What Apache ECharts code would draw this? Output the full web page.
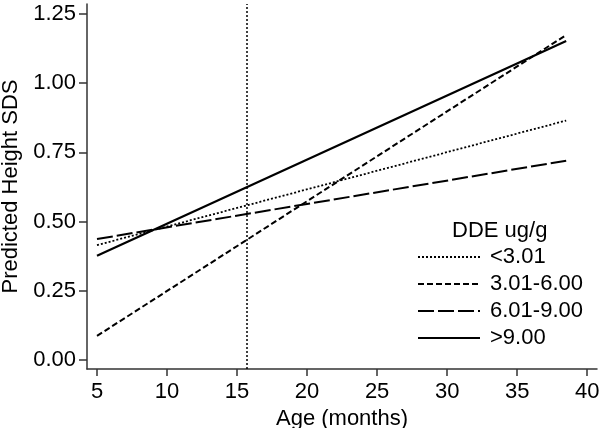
<!DOCTYPE html>
<html>
<head>
<meta charset="utf-8">
<script src="https://cdn.jsdelivr.net/npm/echarts@6/dist/echarts.min.js"></script>
<style>
html,body{margin:0;padding:0;background:#fff;}
#chart{width:601px;height:428px;}
</style>
</head>
<body>
<div id="chart"></div>
<script>
// Data
const ages = [5, 38.5];
const seriesNames = ['<3.01', '3.01-6.00', '6.01-9.00', '>9.00'];
const lt301 = [0.415, 0.865];
const dde301to600 = [0.087, 1.174];
const dde601to900 = [0.437, 0.720];
const gt900 = [0.377, 1.152];
const xTicks = [5, 10, 15, 20, 25, 30, 35, 40];
const yTicks = [0, 0.25, 0.5, 0.75, 1.0, 1.25];
const refAge = 15.7;

const pairs = (ys) => ages.map((x, i) => [x, ys[i]]);
const axisColor = '#333';
const font = 'Liberation Sans, Arial, sans-serif';
const fs = 22;

const chart = echarts.init(document.getElementById('chart'), null, {renderer: 'canvas'});
chart.setOption({
  backgroundColor: '#fff',
  animation: false,
  textStyle: {fontFamily: font},
  grid: {left: 87, right: 4, top: 4, bottom: 59, outerBoundsMode: 'none', containLabel: false},
  title: {
    text: 'DDE ug/g', left: 452, top: 220, padding: 0,
    textStyle: {fontFamily: font, fontSize: fs, fontWeight: 'normal', color: '#000'}
  },
  legend: {
    orient: 'vertical', left: 417, top: 246, padding: 0,
    itemWidth: 62, itemHeight: 20, itemGap: 5,
    itemStyle: {opacity: 0},
    textStyle: {fontFamily: font, fontSize: fs, color: '#000', padding: [0, 0, 0, 5]},
    data: seriesNames
  },
  xAxis: {
    type: 'value', min: 4.286, max: 40.7,
    name: 'Age (months)', nameLocation: 'middle', nameGap: 30,
    nameTextStyle: {fontFamily: font, fontSize: fs, color: '#000'},
    axisLine: {show: true, onZero: false, lineStyle: {color: axisColor, width: 1.5}},
    axisTick: {show: true, length: 7, lineStyle: {color: axisColor, width: 1.5}, customValues: xTicks},
    axisLabel: {fontFamily: font, fontSize: fs, color: '#000', margin: 12, customValues: xTicks},
    splitLine: {show: false}
  },
  yAxis: {
    type: 'value', min: -0.0325, max: 1.286,
    name: 'Predicted Height SDS', nameLocation: 'middle', nameGap: 63, nameRotate: 90,
    nameTextStyle: {fontFamily: font, fontSize: fs, color: '#000'},
    axisLine: {show: true, onZero: false, lineStyle: {color: axisColor, width: 1.5}},
    axisTick: {show: true, length: 8, lineStyle: {color: axisColor, width: 1.5}, customValues: yTicks},
    axisLabel: {fontFamily: font, fontSize: fs, color: '#000', margin: 11, customValues: yTicks,
      formatter: (v) => v.toFixed(2)},
    splitLine: {show: false}
  },
  series: [
    {
      name: seriesNames[0], type: 'line', data: pairs(lt301), symbol: 'none',
      lineStyle: {color: '#000', width: 1.8, type: [2, 2]}, itemStyle: {color: '#000'},
      markLine: {
        silent: true, symbol: 'none', label: {show: false},
        lineStyle: {color: '#000', width: 1.5, type: [2, 2]},
        data: [{xAxis: refAge}]
      }
    },
    {
      name: seriesNames[1], type: 'line', data: pairs(dde301to600), symbol: 'none',
      lineStyle: {color: '#000', width: 2, type: [6, 3]}, itemStyle: {color: '#000'}
    },
    {
      name: seriesNames[2], type: 'line', data: pairs(dde601to900), symbol: 'none',
      lineStyle: {color: '#000', width: 2, type: [16, 4]}, itemStyle: {color: '#000'}
    },
    {
      name: seriesNames[3], type: 'line', data: pairs(gt900), symbol: 'none',
      lineStyle: {color: '#000', width: 2.2, type: 'solid'}, itemStyle: {color: '#000'}
    }
  ]
});
</script>
</body>
</html>
